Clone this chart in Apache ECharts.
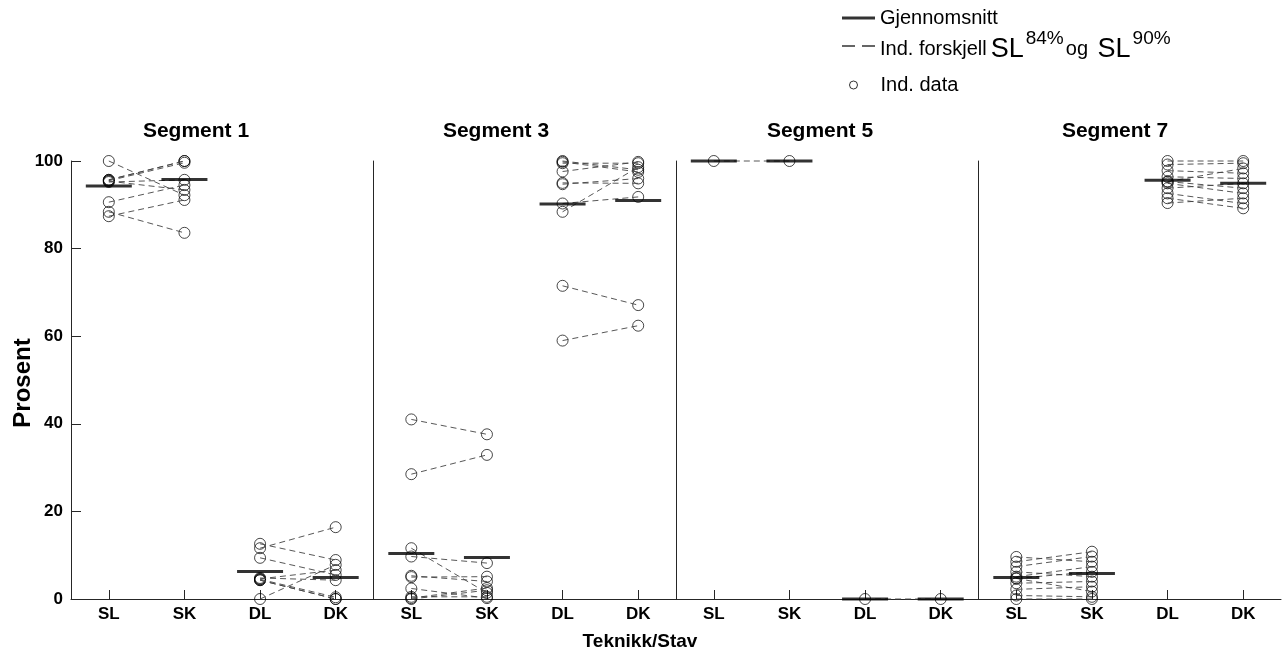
<!DOCTYPE html>
<html>
<head>
<meta charset="utf-8">
<script src="https://cdn.jsdelivr.net/npm/echarts@6/dist/echarts.min.js"></script>
<style>html,body{margin:0;padding:0;background:#fff;}#c{width:1287px;height:662px;}</style>
</head>
<body>
<div id="c"></div>
<script>
// ---- data ----
const categories = ['SL', 'SK', 'DL', 'DK'];
const segmentTitles = ['Segment 1', 'Segment 3', 'Segment 5', 'Segment 7'];
const yTicks = [0, 20, 40, 60, 80, 100];

const seg1SL = [100, 95.7, 95.4, 95.2, 90.6, 88.4, 87.4, 95.5, 95.7];
const seg1SK = [92.2, 100, 93.4, 95.7, 94.5, 83.6, 91.1, 99.6, 100];
const seg1DL = [0, 4.3, 4.6, 4.8, 9.4, 11.6, 12.6, 4.5, 4.3];
const seg1DK = [7.8, 0, 6.6, 4.3, 5.5, 16.4, 8.9, 0.4, 0];
const seg1Mean = [94.3, 95.8, 6.3, 4.9];

const seg3SL = [41, 28.5, 11.6, 9.7, 5.3, 2.4, 0.2, 5.0, 0.5, 0];
const seg3SK = [37.6, 32.9, 1.4, 8.2, 4.0, 0.2, 2.5, 5.1, 0.5, 2.0];
const seg3DL = [59, 71.5, 88.4, 90.3, 94.7, 97.6, 99.8, 95, 99.5, 100];
const seg3DK = [62.4, 67.1, 98.6, 91.8, 96, 99.8, 97.5, 94.9, 99.5, 98];
const seg3Mean = [10.4, 9.5, 90.2, 91.0];

const seg5SL = [100];
const seg5SK = [100];
const seg5DL = [0];
const seg5DK = [0];
const seg5Mean = [100, 100, 0, 0];

const seg7SL = [0, 0.8, 2.2, 3.6, 4.7, 5.1, 6.2, 7.4, 8.5, 9.6, 4.7];
const seg7SK = [0, 0.5, 2.8, 4.0, 6.2, 7.4, 5.1, 9.7, 10.8, 8.5, 1.7];
const seg7DL = [100, 99.2, 97.8, 96.4, 95.3, 94.9, 93.8, 92.6, 91.5, 90.4, 95.3];
const seg7DK = [100, 99.5, 97.2, 96, 93.8, 92.6, 94.9, 90.3, 89.2, 91.5, 98.3];
const seg7Mean = [4.9, 5.8, 95.6, 94.9];

const segments = [
  [seg1SL, seg1SK, seg1DL, seg1DK, seg1Mean],
  [seg3SL, seg3SK, seg3DL, seg3DK, seg3Mean],
  [seg5SL, seg5SK, seg5DL, seg5DK, seg5Mean],
  [seg7SL, seg7SK, seg7DL, seg7DK, seg7Mean]
];

// ---- layout ----
const FONT = '"Liberation Sans", Arial, Helvetica, sans-serif';
const gLeft = 71, gTop = 161, gW = 302.5, gH = 438;
const titleX = [196, 496, 820, 1115];

const grids = [], xAxes = [], yAxes = [], series = [], graphics = [];
segments.forEach((seg, g) => {
  grids.push({ left: gLeft + g * gW, top: gTop, width: gW, height: gH });
  xAxes.push({
    type: 'category', gridIndex: g, data: categories, boundaryGap: true,
    axisLine: { show: true, lineStyle: { color: '#262626', width: 1 } },
    axisTick: { show: true, inside: true, alignWithLabel: true, length: 9, lineStyle: { color: '#262626' } },
    axisLabel: { color: '#000', fontSize: 17, fontWeight: 'bold', fontFamily: FONT, margin: 7 }
  });
  yAxes.push({
    type: 'value', gridIndex: g, min: yTicks[0], max: yTicks[yTicks.length - 1], interval: 20,
    splitLine: { show: false },
    axisLine: { show: true, onZero: false, lineStyle: { color: '#262626', width: 1 } },
    axisTick: { show: g === 0, inside: true, length: 10, lineStyle: { color: '#262626' } },
    axisLabel: { show: g === 0, color: '#000', fontSize: 17, fontWeight: 'bold', fontFamily: FONT, margin: 8 }
  });
  const [sl, sk, dl, dk, mean] = seg;
  const pts = [];
  [sl, sk, dl, dk].forEach((arr, ci) => arr.forEach(v => pts.push([ci, v])));
  series.push({
    name: 'Ind. data', type: 'scatter', xAxisIndex: g, yAxisIndex: g, data: pts,
    symbol: 'circle', symbolSize: 11, z: 2, clip: false,
    itemStyle: { color: 'rgba(255,255,255,0)', borderColor: '#000', borderWidth: 0.9 }
  });
  sl.forEach((v, i) => {
    series.push({
      name: 'Ind. forskjell', type: 'line', xAxisIndex: g, yAxisIndex: g,
      data: [sl[i], sk[i], '-', '-'], symbol: 'none', showSymbol: false, clip: false, z: 3,
      lineStyle: { color: '#444', width: 0.9, type: [6, 4] }
    });
    series.push({
      name: 'Ind. forskjell', type: 'line', xAxisIndex: g, yAxisIndex: g,
      data: ['-', '-', dl[i], dk[i]], symbol: 'none', showSymbol: false, clip: false, z: 3,
      lineStyle: { color: '#444', width: 0.9, type: [6, 4] }
    });
  });
  series.push({
    name: 'Gjennomsnitt', type: 'scatter', xAxisIndex: g, yAxisIndex: g,
    data: mean.map((v, ci) => [ci, v]), symbol: 'rect', symbolSize: [46, 3], z: 5, clip: false,
    itemStyle: { color: '#000' }
  });
  graphics.push({
    type: 'text', x: titleX[g], y: 131,
    style: { text: segmentTitles[g], fill: '#000', font: 'bold 21px ' + FONT, textAlign: 'center', textVerticalAlign: 'middle' }
  });
});
graphics.push({
  type: 'text', x: 640, y: 642,
  style: { text: 'Teknikk/Stav', fill: '#000', font: 'bold 19px ' + FONT, textAlign: 'center', textVerticalAlign: 'middle' }
});
graphics.push({
  type: 'text', x: 23, y: 383, rotation: Math.PI / 2,
  style: { text: 'Prosent', fill: '#000', font: 'bold 24px ' + FONT, textAlign: 'center', textVerticalAlign: 'middle' }
});

const legendText = { color: '#000', fontSize: 20, fontFamily: FONT };
const option = {
  animation: false,
  backgroundColor: '#fff',
  grid: grids, xAxis: xAxes, yAxis: yAxes, series: series, graphic: graphics,
  legend: [
    {
      left: 842, top: 8, padding: 0, itemWidth: 33, itemHeight: 3, selectedMode: false, textStyle: legendText,
      data: [{ name: 'Gjennomsnitt', icon: 'rect', itemStyle: { color: '#000' } }]
    },
    {
      left: 842, top: 29, padding: 0, itemWidth: 33, itemHeight: 1.4, selectedMode: false,
      data: [{ name: 'Ind. forskjell', icon: 'path://M0,0H13V1.4H0Z M20,0H33V1.4H20Z', itemStyle: { color: '#333' } }],
      formatter: () => '{n|Ind. forskjell}{b|SL}{s|84%}{n|og }{b|SL}{s|90%}',
      textStyle: {
        color: '#000', fontSize: 20, fontFamily: FONT,
        rich: {
          n: { fontSize: 20, fontFamily: FONT, color: '#000', padding: [6, 0, 0, 0] },
          b: { fontSize: 27, fontFamily: FONT, color: '#000', padding: [7, 1, 0, 4] },
          s: { fontSize: 19, fontFamily: FONT, color: '#000', padding: [0, 2, 15, 1] }
        }
      }
    },
    {
      left: 849, top: 75, padding: 0, itemWidth: 44, itemHeight: 8, selectedMode: false, textStyle: legendText,
      data: [{ name: 'Ind. data', icon: 'circle', itemStyle: { color: '#fff', borderColor: '#000', borderWidth: 1 } }]
    }
  ]
};
const chart = echarts.init(document.getElementById('c'), null, { renderer: 'canvas' });
chart.setOption(option);
</script>
</body>
</html>
